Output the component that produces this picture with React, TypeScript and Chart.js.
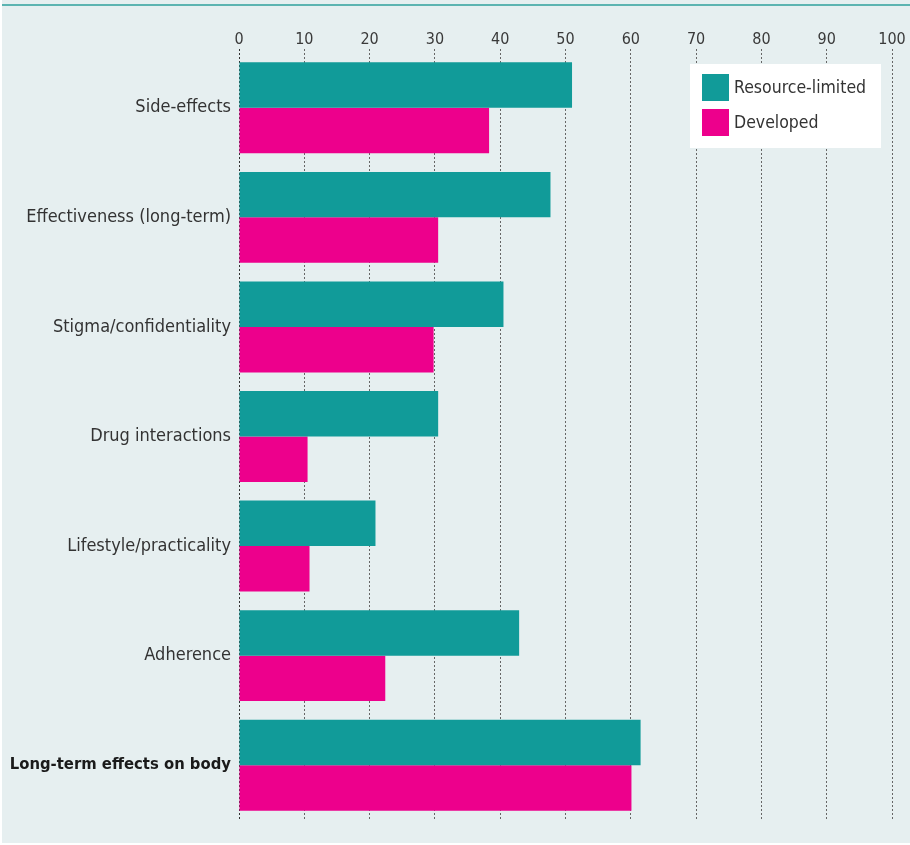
import React, { useEffect, useRef } from "react";
import { Chart, registerables } from "chart.js";

Chart.register(...registerables);

const categories = [
  "Side-effects",
  "Effectiveness (long-term)",
  "Stigma/confidentiality",
  "Drug interactions",
  "Lifestyle/practicality",
  "Adherence",
  "Long-term effects on body",
];
const resourceLimited = [51, 47.7, 40.5, 30.5, 20.9, 42.9, 61.5];
const developed = [38.3, 30.5, 29.8, 10.5, 10.8, 22.4, 60.1];
const seriesLabels = ["Resource-limited", "Developed"];
const seriesColors = ["#119b99", "#ed008c"];
const xTicks = [0, 10, 20, 30, 40, 50, 60, 70, 80, 90, 100];

const FONT = "'Liberation Sans Narrow', 'DejaVu Sans Condensed', 'Roboto', sans-serif";

const legendPlugin = {
  id: "boxLegend",
  afterDraw(chart: any) {
    const ctx = chart.ctx;
    const area = chart.chartArea;
    const boxRight = area.right - 11;
    const boxLeft = boxRight - 191;
    const boxTop = 64;
    const boxH = 84;
    ctx.save();
    ctx.fillStyle = "#ffffff";
    ctx.fillRect(boxLeft, boxTop, boxRight - boxLeft, boxH);
    chart.data.datasets.forEach((ds: any, i: number) => {
      const y = boxTop + 10 + i * 35;
      ctx.fillStyle = ds.backgroundColor;
      ctx.fillRect(boxLeft + 12, y, 27, 27);
      ctx.fillStyle = "#333333";
      ctx.font = `17.5px ${FONT}`;
      ctx.textBaseline = "middle";
      ctx.textAlign = "left";
      ctx.fillText(ds.label, boxLeft + 44, y + 14);
    });
    ctx.restore();
  },
};

export default function App() {
  const canvasRef = useRef<HTMLCanvasElement | null>(null);

  useEffect(() => {
    if (!canvasRef.current) return;
    const gridColor = (c: any) => (c.tick && c.tick.value === 0 ? "#333" : "#666");
    const chart = new Chart(canvasRef.current, {
      type: "bar",
      data: {
        labels: categories,
        datasets: [
          {
            label: seriesLabels[0],
            data: resourceLimited,
            backgroundColor: seriesColors[0],
            borderWidth: 0,
          },
          {
            label: seriesLabels[1],
            data: developed,
            backgroundColor: seriesColors[1],
            borderWidth: 0,
          },
        ],
      },
      options: {
        indexAxis: "y",
        animation: false,
        responsive: false,
        maintainAspectRatio: false,
        layout: { padding: { top: 0, left: 0, right: 18, bottom: 23 } },
        datasets: {
          bar: { barPercentage: 1, categoryPercentage: 0.83 },
        },
        plugins: {
          legend: { display: false },
          tooltip: { enabled: false },
        },
        scales: {
          x: {
            position: "top",
            min: 0,
            max: 100,
            afterBuildTicks: (scale: any) => {
              scale.ticks = xTicks.map((v) => ({ value: v }));
            },
            afterFit: (scale: any) => {
              scale.height = 53;
            },
            grid: {
              color: gridColor,
              lineWidth: 1,
              tickLength: 4,
              tickColor: gridColor,
              tickBorderDash: [2, 2],
              drawTicks: true,
            },
            border: { display: false, dash: [2, 2] },
            ticks: {
              color: "#3a3a3a",
              font: { family: FONT, size: 16 },
              padding: 0,
            },
          } as any,
          y: {
            afterFit: (scale: any) => {
              scale.width = 237;
            },
            grid: { display: false, drawTicks: false },
            border: { display: false },
            ticks: {
              color: (c: any) => (c.index === 6 ? "#1a1a1a" : "#333"),
              font: (c: any) => ({
                family: FONT,
                size: c.index === 6 ? 16.5 : 18,
                weight: c.index === 6 ? "bold" : "normal",
              }),
              padding: 8,
            },
          },
        },
      },
      plugins: [legendPlugin],
    } as any);
    return () => chart.destroy();
  }, []);

  return (
    <div
      style={{
        position: "absolute",
        left: 0,
        top: 0,
        width: 910,
        height: 845,
        background: "#ffffff",
      }}
    >
      <div
        style={{
          position: "absolute",
          left: 2,
          top: 0,
          width: 908,
          height: 843,
          background: "#e6eff0",
        }}
      >
        <div
          style={{
            position: "absolute",
            left: 0,
            top: 4,
            width: 908,
            height: 2,
            background: "#5cb4b1",
          }}
        />
        <canvas
          ref={canvasRef}
          width={908}
          height={843}
          style={{ position: "absolute", left: 0, top: 0, width: 908, height: 843 }}
        />
      </div>
    </div>
  );
}
